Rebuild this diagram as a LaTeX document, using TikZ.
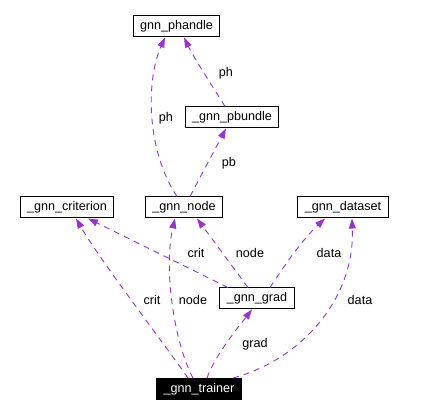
\documentclass[tikz,border=0pt]{standalone}
\usepackage{fontspec}
\setmainfont{Liberation Sans}
\usetikzlibrary{arrows.meta}
\definecolor{usePurple}{HTML}{9A32CD}

\begin{document}
\begin{tikzpicture}[
  x=1pt, y=-1pt,
  every node/.style={font=\fontsize{12.6}{15}\selectfont},
  classbox/.style={draw=black, line width=1pt, inner xsep=7pt, inner ysep=0pt, minimum height=21pt},
  usage/.style={usePurple, line width=0.9pt, dash pattern=on 6pt off 5pt,
    -{Triangle[length=10pt,width=7pt]}},
  lbl/.style={inner sep=1pt}
]
  \useasboundingbox (0,0) rectangle (421,417);

  % Classes
  \node[classbox] (phandle) at (176.5,26.5) {gnn\_phandle};
  \node[classbox] (pbundle) at (232,117.5) {\_gnn\_pbundle};
  \node[classbox] (criterion) at (67,207.5) {\_gnn\_criterion};
  \node[classbox] (gnode) at (184,207.5) {\_gnn\_node};
  \node[classbox] (dataset) at (343,207.5) {\_gnn\_dataset};
  \node[classbox] (grad) at (257,298.5) {\_gnn\_grad};
  \node[classbox, fill=black, text=white] (trainer) at (199,389) {\_gnn\_trainer};

  % Upper part: node, pbundle, phandle
  \draw[usage] ([xshift=-7pt]gnode.north) .. controls (146,150) and (146,80) .. ([xshift=-11.5pt]phandle.south);
  \draw[usage] ([xshift=6pt]gnode.north) -- ([xshift=-6pt]pbundle.south);
  \draw[usage] ([xshift=-7pt]pbundle.north) .. controls (215,90) and (195,60) .. ([xshift=7.5pt]phandle.south);

  % grad uses criterion, node, dataset
  \draw[usage] ([xshift=-29pt]grad.north) -- ([xshift=21pt]criterion.south);
  \draw[usage] ([xshift=-9pt]grad.north) -- ([xshift=13pt]gnode.south);
  \draw[usage] ([xshift=13pt]grad.north) .. controls (283,268) and (300,242) .. ([xshift=-18pt]dataset.south);

  % trainer uses everything
  \draw[usage] ([xshift=-11pt]trainer.north) .. controls (165,345) and (100,260) .. ([xshift=9pt]criterion.south);
  \draw[usage] ([xshift=-6pt]trainer.north) .. controls (175,345) and (163,270) .. ([xshift=-9pt]gnode.south);
  \draw[usage] ([xshift=8pt]trainer.north) .. controls (215,355) and (240,325) .. ([xshift=-5pt]grad.south);
  \draw[usage] ([xshift=34pt]trainer.north) .. controls (300,360) and (355,300) .. ([xshift=9pt]dataset.south);

  % Member names
  \node[lbl] (phleft) at (166,118) {ph};
  \node[lbl] (phright) at (226,73) {ph};
  \node[lbl] (pb) at (229,163) {pb};
  \node[lbl] (critgrad) at (196,253) {crit};
  \node[lbl] (nodegrad) at (250,253) {node};
  \node[lbl] (datagrad) at (329,253) {data};
  \node[lbl] (crittrainer) at (152,300) {crit};
  \node[lbl] (nodetrainer) at (193,300) {node};
  \node[lbl] (gradtrainer) at (255,344) {grad};
  \node[lbl] (datatrainer) at (360,300) {data};
\end{tikzpicture}
\end{document}
